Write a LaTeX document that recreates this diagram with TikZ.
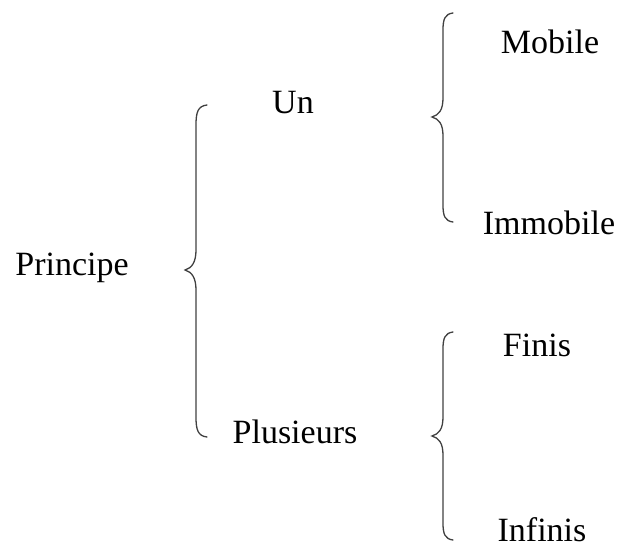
\documentclass[tikz,border=0pt]{standalone}
\usepackage{fontspec}
\setmainfont{Liberation Serif}
\begin{document}
\begin{tikzpicture}[x=1pt,y=-1pt,
  lbl/.style={anchor=base,inner sep=0pt,font=\fontsize{34}{38}\selectfont},
  curly/.style={draw=black!75,line width=1.3pt,line cap=round}]
\useasboundingbox (0,0) rectangle (622,549);
\node[lbl] (principe) at (72,275) {Principe};
\node[lbl] (un) at (293,113) {Un};
\node[lbl] (plus) at (295,443) {Plusieurs};
\node[lbl] (mobile) at (550,53) {Mobile};
\node[lbl] (immobile) at (549,234) {Immobile};
\node[lbl] (finis) at (537,356) {Finis};
\node[lbl] (infinis) at (542,541) {Infinis};
% brace 1
\coordinate (b1t) at (207,105);
\coordinate (b1m) at (185,270);
\coordinate (b1b) at (207,437);
\draw[curly] (b1t) .. controls (198,106) and (196,112) .. (196,125)
  -- (196,250) .. controls (196,262) and (192,268) .. (b1m)
  .. controls (192,272) and (196,278) .. (196,290)
  -- (196,417) .. controls (196,430) and (198,436) .. (b1b);
% brace 2
\coordinate (b2t) at (453,13);
\coordinate (b2m) at (432,117);
\coordinate (b2b) at (453,222);
\draw[curly] (b2t) .. controls (445,14) and (443,19) .. (443,30)
  -- (443,98) .. controls (443,110) and (439,115) .. (b2m)
  .. controls (439,119) and (443,124) .. (443,136)
  -- (443,205) .. controls (443,216) and (445,221) .. (b2b);
% brace 3
\coordinate (b3t) at (453,332);
\coordinate (b3m) at (432,436);
\coordinate (b3b) at (453,540);
\draw[curly] (b3t) .. controls (445,333) and (443,338) .. (443,349)
  -- (443,417) .. controls (443,429) and (439,434) .. (b3m)
  .. controls (439,438) and (443,443) .. (443,455)
  -- (443,523) .. controls (443,534) and (445,539) .. (b3b);
\end{tikzpicture}
\end{document}
